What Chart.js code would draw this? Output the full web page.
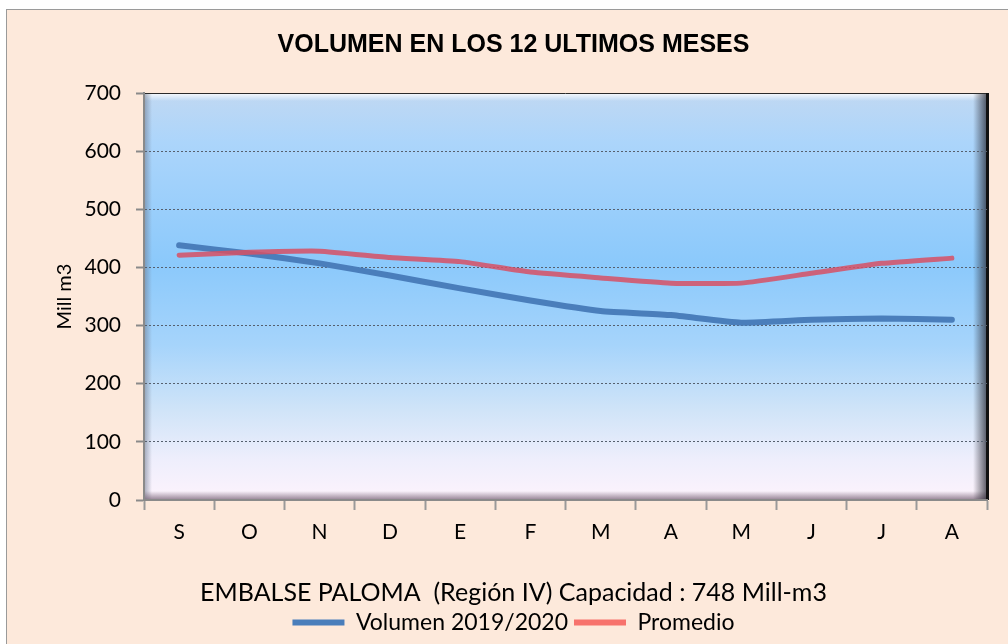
<!DOCTYPE html>
<html>
<head>
<meta charset="utf-8">
<script src="https://cdn.jsdelivr.net/npm/chart.js@4/dist/chart.umd.min.js"></script>
<style>
    html, body { margin: 0; padding: 0; background: #fff; }
    #wrap { width: 1008px; height: 644px; }
</style>
</head>
<body>
<div id="wrap"><canvas id="volChart" width="1008" height="644"></canvas></div>
<script>
const meses = ['S', 'O', 'N', 'D', 'E', 'F', 'M', 'A', 'M', 'J', 'J', 'A'];
const volumen = [438, 424, 407, 386, 364, 343, 325, 318, 305, 310, 312, 310];
const promedio = [421, 426, 428, 417, 410, 392, 382, 373, 373, 390, 407, 416];
const yTicks = [0, 100, 200, 300, 400, 500, 600, 700];

const tituloGrafico = 'VOLUMEN EN LOS 12 ULTIMOS MESES';
const leyendaTitulo = 'EMBALSE PALOMA  (Región IV) Capacidad : 748 Mill-m3';
const ejeY = 'Mill m3';

const azul = '#4a7ebb';
const rojoLinea = 'rgba(215, 80, 100, 0.85)';
const rojoLeyenda = '#f7726c';

// background of the page and the bevelled plot area
const fondoPlugin = {
    id: 'fondo',
    beforeDraw(chart) {
        const ctx = chart.ctx;
        const a = chart.chartArea;
        ctx.save();
        ctx.fillStyle = '#ffffff';
        ctx.fillRect(0, 0, chart.width, chart.height);
        ctx.fillStyle = '#fde9db';
        ctx.fillRect(6, 9, chart.width - 6, chart.height - 9);
        ctx.strokeStyle = '#9a9a9a';
        ctx.lineWidth = 1;
        ctx.strokeRect(6.5, 9.5, chart.width, chart.height);

        const g = ctx.createLinearGradient(0, a.top, 0, a.bottom);
        g.addColorStop(0, '#c0d8f2');
        g.addColorStop(0.12, '#acd5fb');
        g.addColorStop(0.42, '#8bc9fb');
        g.addColorStop(0.62, '#a6d4fb');
        g.addColorStop(0.78, '#d0e4f8');
        g.addColorStop(0.9, '#eeeefc');
        g.addColorStop(1, '#fdf3fc');
        ctx.fillStyle = g;
        ctx.fillRect(a.left, a.top, a.right - a.left, a.bottom - a.top);

        // top highlight
        let b = ctx.createLinearGradient(0, a.top, 0, a.top + 8);
        b.addColorStop(0, 'rgba(255,255,255,0.9)');
        b.addColorStop(1, 'rgba(255,255,255,0)');
        ctx.fillStyle = b;
        ctx.fillRect(a.left, a.top, a.right - a.left, 8);
        // left shade
        b = ctx.createLinearGradient(a.left, 0, a.left + 8, 0);
        b.addColorStop(0, 'rgba(110,120,140,0.6)');
        b.addColorStop(1, 'rgba(110,120,140,0)');
        ctx.fillStyle = b;
        ctx.fillRect(a.left, a.top, 8, a.bottom - a.top);
        // bottom shade
        b = ctx.createLinearGradient(0, a.bottom - 9, 0, a.bottom);
        b.addColorStop(0, 'rgba(120,100,120,0)');
        b.addColorStop(1, 'rgba(120,100,120,0.8)');
        ctx.fillStyle = b;
        ctx.fillRect(a.left, a.bottom - 9, a.right - a.left, 9);
        // right shade
        b = ctx.createLinearGradient(a.right - 14, 0, a.right, 0);
        b.addColorStop(0, 'rgba(40,40,50,0)');
        b.addColorStop(1, 'rgba(40,40,50,0.75)');
        ctx.fillStyle = b;
        ctx.fillRect(a.right - 14, a.top, 14, a.bottom - a.top);

        ctx.strokeStyle = '#2b2b2b';
        ctx.lineWidth = 1;
        ctx.beginPath();
        ctx.moveTo(a.left, a.top + 0.5);
        ctx.lineTo(a.right, a.top + 0.5);
        ctx.stroke();
        ctx.lineWidth = 3;
        ctx.strokeStyle = '#111';
        ctx.beginPath();
        ctx.moveTo(a.right + 0.5, a.top);
        ctx.lineTo(a.right + 0.5, a.bottom);
        ctx.stroke();
        ctx.restore();
    }
};

const ctx = document.getElementById('volChart').getContext('2d');
const volChart = new Chart(ctx, {
    type: 'line',
    data: {
        labels: meses,
        datasets: [{
            label: 'Volumen 2019/2020',
            data: volumen,
            borderColor: azul,
            backgroundColor: azul,
            borderWidth: 6,
            borderCapStyle: 'round',
            borderJoinStyle: 'round',
            pointRadius: 0,
            tension: 0.15,
            fill: false,
            order: 1
        }, {
            label: 'Promedio',
            data: promedio,
            borderColor: rojoLinea,
            backgroundColor: rojoLeyenda,
            borderWidth: 5,
            borderCapStyle: 'round',
            borderJoinStyle: 'round',
            pointRadius: 0,
            tension: 0.15,
            fill: false,
            order: 0
        }]
    },
    plugins: [fondoPlugin],
    options: {
        responsive: false,
        animation: false,
        layout: {
            padding: { left: 40, right: 21, top: 0, bottom: 0 }
        },
        scales: {
            x: {
                offset: true,
                grid: {
                    offset: true,
                    drawOnChartArea: false,
                    drawTicks: true,
                    tickLength: 10,
                    tickColor: '#9a9a9a',
                    tickWidth: 2
                },
                border: { color: '#8a8a8a', width: 2 },
                ticks: {
                    color: '#000',
                    padding: 10,
                    font: { family: 'Lato', size: 21 }
                },
                afterFit(scale) { scale.height = 70; }
            },
            y: {
                min: 0,
                max: 700,
                afterBuildTicks(scale) {
                    scale.ticks = yTicks.map(v => ({ value: v }));
                },
                grid: {
                    color: c => (c.tick && (c.tick.value === 0 || c.tick.value === 700)) ? 'rgba(0,0,0,0)' : '#56606e',
                    lineWidth: 1,
                    tickLength: 8,
                    tickColor: '#8a8a8a',
                    tickWidth: 2,
                    tickBorderDash: []
                },
                border: { color: '#8a8a8a', width: 2, dash: [2, 2] },
                ticks: {
                    color: '#000',
                    padding: 15,
                    font: { family: 'Lato', size: 21 }
                },
                title: {
                    display: true,
                    text: ejeY,
                    color: '#000',
                    padding: { top: 13, bottom: 0 },
                    font: { family: 'Lato', size: 20 }
                },
                afterFit(scale) { scale.width = 104; }
            }
        },
        plugins: {
            title: {
                display: true,
                text: tituloGrafico,
                color: '#000',
                font: { family: 'Liberation Sans', size: 25, weight: 'bold' },
                padding: { top: 30, bottom: 33 }
            },
            legend: {
                position: 'bottom',
                labels: {
                    color: '#000',
                    font: { family: 'Lato', size: 23 },
                    boxWidth: 52,
                    boxHeight: 6,
                    padding: 6,
                    generateLabels(chart) {
                        return chart.data.datasets.map((ds, i) => ({
                            text: ds.label,
                            fillStyle: i === 0 ? azul : rojoLeyenda,
                            strokeStyle: 'rgba(0,0,0,0)',
                            lineWidth: 0,
                            fontColor: '#000',
                            hidden: false,
                            datasetIndex: i
                        }));
                    }
                },
                title: {
                    display: true,
                    text: leyendaTitulo,
                    color: '#000',
                    font: { family: 'Lato', size: 25, lineHeight: 1.0 },
                    padding: { top: 10, bottom: 0 }
                }
            },
            tooltip: { enabled: false }
        }
    }
});
</script>
</body>
</html>
